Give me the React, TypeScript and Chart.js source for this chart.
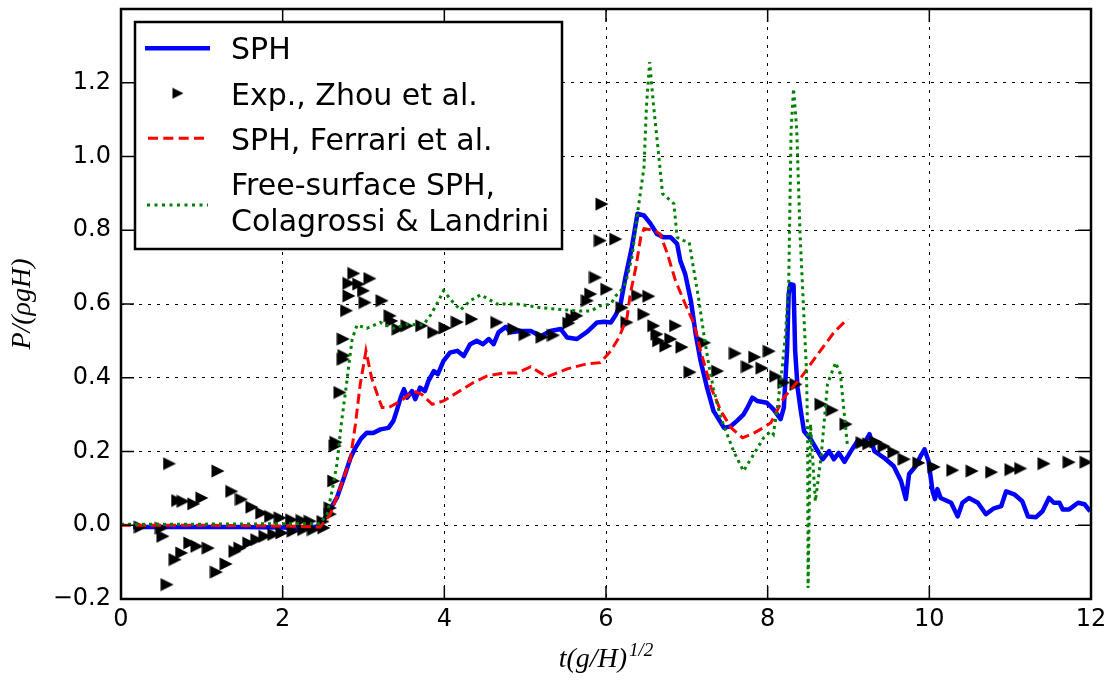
import React, { useEffect, useRef } from "react";
import { Chart, registerables } from "chart.js";

Chart.register(...registerables);

// ---- SPH (present) ----
const sphX = [0.15, 0.5, 1.0, 1.5, 2.0, 2.3, 2.46, 2.55, 2.67, 2.76, 2.84, 2.9, 2.97, 3.04, 3.12, 3.21, 3.31, 3.37, 3.41, 3.46, 3.5, 3.54, 3.6, 3.64, 3.7, 3.76, 3.8, 3.87, 3.92, 3.99, 4.07, 4.16, 4.24, 4.32, 4.4, 4.48, 4.55, 4.61, 4.67, 4.76, 4.82, 4.94, 5.07, 5.19, 5.31, 5.44, 5.52, 5.64, 5.77, 5.89, 5.98, 6.06, 6.12, 6.18, 6.24, 6.32, 6.39, 6.47, 6.55, 6.63, 6.71, 6.8, 6.88, 6.92, 6.98, 7.05, 7.11, 7.17, 7.25, 7.33, 7.46, 7.54, 7.62, 7.7, 7.75, 7.81, 7.87, 7.99, 8.07, 8.16, 8.2, 8.24, 8.26, 8.28, 8.32, 8.34, 8.37, 8.41, 8.45, 8.53, 8.62, 8.68, 8.76, 8.82, 8.88, 8.95, 9.03, 9.11, 9.19, 9.26, 9.32, 9.44, 9.56, 9.65, 9.71, 9.75, 9.83, 9.89, 9.94, 9.99, 10.04, 10.07, 10.1, 10.14, 10.27, 10.35, 10.41, 10.49, 10.6, 10.7, 10.8, 10.89, 10.95, 11.05, 11.15, 11.22, 11.32, 11.4, 11.48, 11.54, 11.61, 11.65, 11.73, 11.84, 11.92, 11.99];
const sphY = [-0.005, -0.005, -0.005, -0.005, -0.006, -0.007, -0.003, 0.03, 0.074, 0.13, 0.183, 0.21, 0.235, 0.251, 0.25, 0.26, 0.264, 0.283, 0.31, 0.346, 0.369, 0.346, 0.364, 0.342, 0.373, 0.364, 0.39, 0.418, 0.41, 0.446, 0.468, 0.473, 0.459, 0.491, 0.5, 0.491, 0.505, 0.491, 0.523, 0.538, 0.523, 0.527, 0.527, 0.512, 0.527, 0.532, 0.509, 0.505, 0.525, 0.55, 0.552, 0.55, 0.57, 0.6, 0.672, 0.754, 0.845, 0.84, 0.818, 0.79, 0.781, 0.781, 0.763, 0.717, 0.681, 0.609, 0.518, 0.446, 0.373, 0.31, 0.264, 0.268, 0.283, 0.3, 0.319, 0.346, 0.337, 0.332, 0.315, 0.288, 0.319, 0.473, 0.627, 0.654, 0.652, 0.473, 0.373, 0.31, 0.255, 0.234, 0.201, 0.179, 0.201, 0.179, 0.196, 0.172, 0.201, 0.228, 0.22, 0.247, 0.201, 0.183, 0.16, 0.12, 0.071, 0.139, 0.16, 0.187, 0.206, 0.174, 0.092, 0.071, 0.098, 0.074, 0.061, 0.024, 0.061, 0.074, 0.061, 0.03, 0.046, 0.052, 0.092, 0.084, 0.065, 0.024, 0.022, 0.038, 0.074, 0.061, 0.061, 0.043, 0.043, 0.061, 0.057, 0.038];

// ---- Experiment, Zhou et al. ----
const expX = [0.24, 0.5, 0.52, 0.57, 0.6, 0.67, 0.7, 0.75, 0.77, 0.85, 0.9, 0.94, 1.0, 1.08, 1.18, 1.2, 1.3, 1.37, 1.41, 1.47, 1.49, 1.58, 1.62, 1.68, 1.74, 1.78, 1.85, 1.89, 1.97, 1.99, 2.11, 2.13, 2.24, 2.26, 2.34, 2.38, 2.5, 2.51, 2.59, 2.59, 2.63, 2.65, 2.66, 2.71, 2.75, 2.76, 2.75, 2.79, 2.82, 2.82, 2.88, 2.94, 3.0, 3.02, 3.08, 3.23, 3.33, 3.35, 3.43, 3.54, 3.72, 3.87, 4.01, 4.16, 4.34, 4.65, 4.86, 5.0, 5.21, 5.35, 5.54, 5.58, 5.64, 5.77, 5.81, 5.87, 5.93, 5.95, 6.01, 6.12, 6.2, 6.26, 6.39, 6.47, 6.53, 6.59, 6.63, 6.65, 6.74, 6.8, 6.86, 6.94, 7.04, 7.22, 7.38, 7.6, 7.75, 7.84, 7.93, 8.02, 8.1, 8.2, 8.35, 8.66, 8.8, 8.97, 9.17, 9.25, 9.34, 9.44, 9.56, 9.69, 9.87, 10.06, 10.29, 10.53, 10.77, 11.01, 11.13, 11.42, 11.73, 11.94];
const expY = [-0.005, -0.008, -0.03, -0.161, 0.167, -0.093, 0.067, -0.075, 0.065, -0.048, 0.058, -0.057, 0.074, -0.062, -0.127, 0.147, -0.105, 0.092, -0.071, -0.062, 0.07, -0.048, 0.049, -0.039, 0.033, -0.03, 0.024, -0.025, 0.02, -0.021, 0.015, -0.016, 0.013, -0.012, 0.011, -0.012, 0.01, -0.007, 0.03, 0.047, 0.12, 0.215, 0.225, 0.36, 0.45, 0.46, 0.505, 0.582, 0.622, 0.656, 0.683, 0.654, 0.636, 0.604, 0.669, 0.609, 0.568, 0.554, 0.532, 0.541, 0.541, 0.523, 0.535, 0.551, 0.559, 0.55, 0.532, 0.517, 0.51, 0.515, 0.548, 0.56, 0.568, 0.609, 0.627, 0.672, 0.772, 0.871, 0.64, 0.776, 0.59, 0.55, 0.623, 0.572, 0.621, 0.541, 0.518, 0.5, 0.486, 0.505, 0.541, 0.483, 0.415, 0.495, 0.418, 0.466, 0.43, 0.456, 0.426, 0.472, 0.404, 0.387, 0.382, 0.328, 0.312, 0.274, 0.224, 0.221, 0.226, 0.214, 0.198, 0.179, 0.169, 0.158, 0.149, 0.147, 0.144, 0.151, 0.154, 0.167, 0.171, 0.171];

// ---- SPH, Ferrari et al. ----
const ferX = [0, 1, 2, 2.4, 2.46, 2.59, 2.71, 2.84, 2.9, 2.96, 3.03, 3.1, 3.17, 3.23, 3.31, 3.46, 3.62, 3.72, 3.85, 3.99, 4.16, 4.36, 4.53, 4.73, 4.9, 5.07, 5.27, 5.52, 5.75, 5.93, 6.06, 6.16, 6.26, 6.3, 6.37, 6.43, 6.47, 6.59, 6.67, 6.76, 6.86, 6.98, 7.09, 7.17, 7.3, 7.42, 7.55, 7.69, 7.83, 7.91, 8.04, 8.2, 8.41, 8.62, 8.82, 8.99];
const ferY = [0, 0, -0.002, -0.004, -0.005, 0.03, 0.1, 0.183, 0.274, 0.383, 0.473, 0.4, 0.355, 0.319, 0.319, 0.337, 0.364, 0.355, 0.328, 0.337, 0.36, 0.387, 0.405, 0.413, 0.413, 0.43, 0.402, 0.424, 0.437, 0.441, 0.473, 0.509, 0.563, 0.627, 0.7, 0.781, 0.804, 0.8, 0.79, 0.736, 0.663, 0.6, 0.546, 0.473, 0.373, 0.31, 0.264, 0.237, 0.25, 0.26, 0.278, 0.346, 0.4, 0.464, 0.523, 0.56];

// ---- Free-surface SPH, Colagrossi & Landrini ----
const colX = [0, 1, 2, 2.46, 2.55, 2.61, 2.67, 2.73, 2.79, 2.83, 2.86, 2.92, 3.04, 3.21, 3.37, 3.54, 3.74, 3.83, 3.93, 3.99, 4.11, 4.2, 4.32, 4.45, 4.65, 4.9, 5.19, 5.44, 5.68, 5.81, 5.93, 6.06, 6.12, 6.22, 6.26, 6.32, 6.4, 6.47, 6.5, 6.54, 6.59, 6.65, 6.7, 6.84, 6.88, 6.96, 7.03, 7.08, 7.15, 7.21, 7.27, 7.33, 7.42, 7.5, 7.58, 7.7, 7.83, 7.95, 8.04, 8.07, 8.12, 8.18, 8.22, 8.26, 8.29, 8.32, 8.36, 8.4, 8.44, 8.48, 8.495, 8.5, 8.53, 8.59, 8.66, 8.74, 8.84, 8.9, 8.94, 8.99];
const colY = [0.003, 0.003, 0.004, 0.004, 0.03, 0.092, 0.165, 0.283, 0.383, 0.455, 0.505, 0.543, 0.534, 0.55, 0.534, 0.545, 0.543, 0.57, 0.609, 0.636, 0.604, 0.584, 0.609, 0.625, 0.6, 0.6, 0.59, 0.585, 0.581, 0.581, 0.595, 0.6, 0.622, 0.645, 0.672, 0.726, 0.862, 0.971, 1.134, 1.256, 1.134, 1.008, 0.899, 0.872, 0.781, 0.772, 0.767, 0.7, 0.609, 0.518, 0.437, 0.37, 0.292, 0.246, 0.2, 0.147, 0.193, 0.237, 0.255, 0.247, 0.319, 0.427, 0.518, 0.654, 1.072, 1.184, 1.072, 0.793, 0.607, 0.42, 0.234, -0.17, 0.274, 0.065, 0.183, 0.383, 0.441, 0.41, 0.319, 0.21];

const xTickValues = [0, 2, 4, 6, 8, 10, 12];
const yTickValues = [-0.2, 0, 0.2, 0.4, 0.6, 0.8, 1.0, 1.2, 1.4];
const legendLabels = ["SPH", "Exp., Zhou et al.", "SPH, Ferrari et al.", "Free-surface SPH,", "Colagrossi & Landrini"];
const xTitle = "t(g/H)";
const xTitleSup = "1/2";
const yTitle = "P/(\u03C1gH)";

const W = 1118;
const H = 684;

function pts(xs: number[], ys: number[]) {
  return xs.map((x, i) => ({ x, y: ys[i] }));
}

function makeTriangle(size: number) {
  const c = document.createElement("canvas");
  c.width = size;
  c.height = size;
  const g = c.getContext("2d")!;
  g.fillStyle = "#000";
  g.beginPath();
  g.moveTo(0.5, 0.5);
  g.lineTo(size - 0.5, size / 2);
  g.lineTo(0.5, size - 0.5);
  g.closePath();
  g.fill();
  return c;
}

export default function App() {
  const ref = useRef<HTMLCanvasElement>(null);

  useEffect(() => {
    document.body.style.margin = "0";
    const canvas = ref.current!;
    const tri = makeTriangle(14);
    const triLegend = makeTriangle(12);

    const decor = {
      id: "decor",
      afterDraw(chart: any) {
        const { ctx, chartArea: a, scales } = chart;
        const xs = scales.x;
        const ys = scales.y;
        ctx.save();
        ctx.setLineDash([]);
        ctx.strokeStyle = "#000";
        ctx.lineWidth = 1.5;
        const TL = 13;
        ctx.beginPath();
        for (const v of xTickValues) {
          const px = xs.getPixelForValue(v);
          ctx.moveTo(px, a.bottom);
          ctx.lineTo(px, a.bottom - TL);
          ctx.moveTo(px, a.top);
          ctx.lineTo(px, a.top + TL);
        }
        for (const v of yTickValues) {
          const py = ys.getPixelForValue(v);
          ctx.moveTo(a.left, py);
          ctx.lineTo(a.left + TL, py);
          ctx.moveTo(a.right, py);
          ctx.lineTo(a.right - TL, py);
        }
        ctx.stroke();

        // frame
        ctx.lineWidth = 2.5;
        ctx.strokeRect(a.left, a.top, a.right - a.left, a.bottom - a.top);

        // legend
        const lx = a.left + 14;
        const ly = a.top + 13;
        const lw = 427;
        const lh = 227;
        ctx.fillStyle = "#fff";
        ctx.fillRect(lx, ly, lw, lh);
        ctx.lineWidth = 2.5;
        ctx.strokeStyle = "#000";
        ctx.strokeRect(lx, ly, lw, lh);

        // samples
        ctx.lineCap = "butt";
        ctx.lineWidth = 4.5;
        ctx.strokeStyle = "#0000ff";
        ctx.beginPath();
        ctx.moveTo(lx + 10, ly + 26.3);
        ctx.lineTo(lx + 75, ly + 26.3);
        ctx.stroke();

        ctx.drawImage(triLegend, lx + 43 - 6, ly + 71.3 - 6);

        ctx.lineWidth = 3;
        ctx.strokeStyle = "#ff0000";
        ctx.setLineDash([10, 5.33]);
        ctx.beginPath();
        ctx.moveTo(lx + 13, ly + 116.3);
        ctx.lineTo(lx + 69, ly + 116.3);
        ctx.stroke();

        ctx.strokeStyle = "#008000";
        ctx.setLineDash([3, 4.5]);
        ctx.beginPath();
        ctx.moveTo(lx + 12, ly + 183);
        ctx.lineTo(lx + 73, ly + 183);
        ctx.stroke();
        ctx.setLineDash([]);

        ctx.fillStyle = "#000";
        ctx.font = '30px "DejaVu Sans"';
        ctx.textAlign = "left";
        ctx.textBaseline = "alphabetic";
        const tx = lx + 96;
        const bases = [37.3, 83, 128, 173, 209];
        legendLabels.forEach((t, i) => ctx.fillText(t, tx, ly + bases[i]));

        // x title
        const cx = (a.left + a.right) / 2;
        const mainFont = 'italic 28px "Liberation Serif"';
        const supFont = 'italic 19px "Liberation Serif"';
        ctx.font = mainFont;
        const wb = ctx.measureText(xTitle).width;
        ctx.font = supFont;
        const wsup = ctx.measureText(xTitleSup).width;
        const x0 = cx - (wb + wsup + 2) / 2;
        const base = 667;
        ctx.font = mainFont;
        ctx.fillText(xTitle, x0, base);
        ctx.font = supFont;
        ctx.fillText(xTitleSup, x0 + wb + 2, base - 11);

        // y title
        ctx.save();
        ctx.translate(30, (a.top + a.bottom) / 2);
        ctx.rotate(-Math.PI / 2);
        ctx.font = mainFont;
        ctx.textAlign = "center";
        ctx.fillText(yTitle, 0, 0);
        ctx.restore();

        ctx.restore();
      },
    };

    const tickFont = { family: "DejaVu Sans", size: 24 };

    const chart = new Chart(canvas, {
      type: "line",
      data: {
        datasets: [
          {
            label: legendLabels[0],
            data: pts(sphX, sphY),
            borderColor: "#0000ff",
            borderWidth: 4.5,
            pointRadius: 0,
            tension: 0,
            borderJoinStyle: "round",
            order: 3,
          },
          {
            label: legendLabels[1],
            data: pts(expX, expY),
            showLine: false,
            pointStyle: tri,
            pointRadius: 7,
            backgroundColor: "#000",
            borderColor: "#000",
            order: 2,
          },
          {
            label: legendLabels[2],
            data: pts(ferX, ferY),
            borderColor: "#ff0000",
            borderWidth: 3,
            borderDash: [10, 5],
            pointRadius: 0,
            tension: 0,
            order: 1,
          },
          {
            label: legendLabels[3] + " " + legendLabels[4],
            data: pts(colX, colY),
            borderColor: "#008000",
            borderWidth: 3,
            borderDash: [3, 4],
            pointRadius: 0,
            tension: 0,
            order: 0,
          },
        ] as any,
      },
      options: {
        animation: false,
        responsive: false,
        maintainAspectRatio: false,
        events: [],
        layout: { padding: { left: 0, right: 27, top: 9, bottom: 0 } },
        plugins: {
          legend: { display: false },
          tooltip: { enabled: false },
          title: { display: false },
        },
        scales: {
          x: {
            type: "linear",
            min: 0,
            max: 12,
            afterFit: (s: any) => {
              s.height = H - 599;
              s.paddingLeft = 0;
              s.paddingRight = 0;
            },
            ticks: {
              stepSize: 2,
              padding: 6,
              color: "#000",
              font: tickFont,
              maxRotation: 0,
              autoSkip: false,
              callback: (v: any) => String(v),
            },
            grid: { color: "#000", lineWidth: 1, drawTicks: false },
            border: { display: false, dash: [3, 6] },
          },
          y: {
            type: "linear",
            min: -0.2,
            max: 1.4,
            afterFit: (s: any) => {
              s.width = 121;
              s.paddingTop = 0;
              s.paddingBottom = 0;
            },
            ticks: {
              stepSize: 0.2,
              padding: 10,
              color: "#000",
              font: tickFont,
              autoSkip: false,
              callback: (v: any) => {
                const r = Math.round(Number(v) * 10) / 10;
                if (r > 1.35) return "";
                return r.toFixed(1).replace("-", "\u2212");
              },
            },
            grid: { color: "#000", lineWidth: 1, drawTicks: false },
            border: { display: false, dash: [3, 6] },
          },
        },
      } as any,
      plugins: [decor],
    });

    return () => chart.destroy();
  }, []);

  return (
    <div style={{ width: W, height: H, position: "relative", background: "#fff" }}>
      <canvas ref={ref} width={W} height={H} style={{ display: "block", width: W, height: H }} />
    </div>
  );
}
